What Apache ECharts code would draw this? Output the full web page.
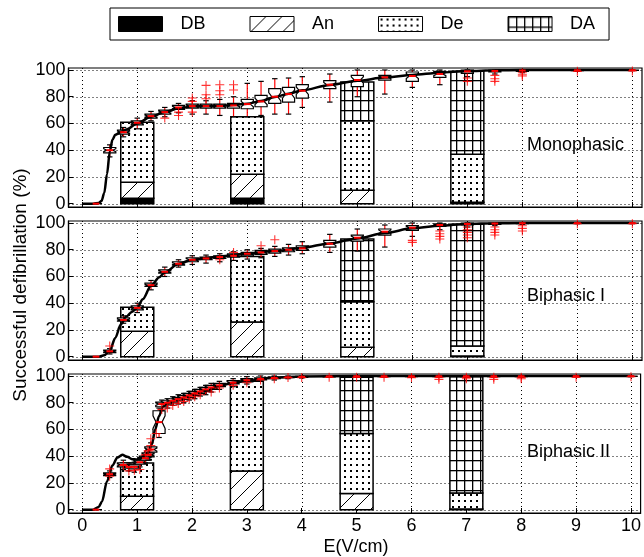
<!DOCTYPE html>
<html><head><meta charset="utf-8">
<script src="https://cdn.jsdelivr.net/npm/echarts@6/dist/echarts.min.js"></script>
<style>html,body{margin:0;padding:0;background:#fff}#c{width:644px;height:557px}</style>
</head><body><div id="c"></div>
<script>
// ---------------- data ----------------
const xTicks = [0,1,2,3,4,5,6,7,8,9,10];
const yTicks = [0,20,40,60,80,100];
const panelNames = ['Monophasic','Biphasic I','Biphasic II'];
const categories = ['DB','An','De','DA'];
const barX = [1,3,5,7];

// stacked bar segments (%), one value per bar position
const monoDB = [4,4,0,0];
const monoAn = [12,18,10,1];
const monoDe = [45,43,52,36];
const monoDA = [0,0,29,62];
const bi1DB = [0,0,0,0];
const bi1An = [19,26,7,0.5];
const bi1De = [18,49,34,7.5];
const bi1DA = [0,0,47,91];
const bi2DB = [0,0,0,0];
const bi2An = [10,29,12,0.5];
const bi2De = [25,67,45,12];
const bi2DA = [0,0,42,87];

// box plots: [E, lower whisker, q1, median, q3, upper whisker]
const monoBoxes = [
 [0.25,0,0,0,0,0],[0.5,35,38,40,42,44],[0.75,50,52,53.5,55,57],[1.0,56,59,60.5,62,64],
 [1.25,62,64,65.5,67,69],[1.5,65,67,68.5,70,72],[1.75,68,70.5,72,73.5,75],[2.0,67,71.5,73,74.5,77],
 [2.25,67,71.5,73,74.5,77],[2.5,66,71.5,73,74.5,78],[2.75,65,71.5,73.5,75,80],[3.0,65,71,74.5,78,90],
 [3.25,66,72.5,76.5,81,91.5],[3.5,67,75,80,86,93.5],[3.75,67,76,82,87,94],[4.0,72,79,84.5,89,95],
 [4.5,76,86,89,92,97],[5.0,80,87.5,92.5,96,100],[5.5,82,92.5,94.5,96,100],[6.0,87,91.5,95.5,98.5,100],
 [6.5,89,94.5,97,99,100],[7.0,95,97.5,99,100,100],[7.5,97,98.5,99.3,100,100],[8.0,98,99,99.6,100,100],
 [9.0,99,99.5,99.8,100,100],[10.0,99.5,99.7,99.9,100,100]
];
const bi1Boxes = [
 [0.25,0,0,0,0,0],[0.5,2,3,4,5,6],[0.75,25,26.5,27.5,29,30.5],[1.0,33,35,36.5,38,40],
 [1.25,50,52.5,53.5,55,57],[1.5,60,62.5,63.5,65,67],[1.75,67,68.5,69.5,71,72.5],[2.0,69,71,72.5,74,75.5],
 [2.25,70,72.5,73.5,74.5,76],[2.5,71,73.5,74.5,75.5,77],[2.75,72,74.5,75.5,77,78.5],[3.0,73,75.5,77,78,80],
 [3.25,74,76.5,78,79.5,81],[3.5,75,77.5,79,80.5,82.5],[3.75,76,78.5,80,81.5,84],[4.0,77,79.5,81,83,86],
 [4.5,78,82,84.5,87,91.5],[5.0,79,86.5,89,91,95.5],[5.5,82,91,93.5,95.5,98.5],[6.0,90,94.5,96.5,98,100],
 [6.5,95,97.5,98.5,99.3,100],[7.0,97,98.5,99.3,100,100],[7.5,98,99,99.6,100,100],[8.0,99,99.5,99.8,100,100],
 [9.0,99.5,99.7,99.9,100,100],[10.0,99.5,99.8,99.9,100,100]
];
const bi2Boxes = [
 [0.25,0,0,0,0,0],[0.5,24,25.5,26.5,27.5,29],[0.75,30,32,33.5,35,37],[0.85,29,31,32,33.5,35],
 [0.95,28,30.5,32,33.5,35.5],[1.05,32,34,35.5,37,39],[1.15,35,37,38.5,40,42],[1.2,37,39.5,41,42.5,45],
 [1.25,40,43,45,47,50],[1.4,54,57,65.5,74,76],[1.45,74,77,79,80.5,82],[1.55,76,78.5,80,81.5,83],
 [1.65,78,80,81.5,83,84.5],[1.75,79,81.5,82.7,84,86],[1.85,80,82.5,84,85.5,87],[1.95,82,84,85.5,87,88.5],
 [2.05,83,85.5,87,88.5,90],[2.15,85,87,88.5,90,91.5],[2.25,86,88.5,90,91.5,93],[2.35,88,90,91.5,93,94.5],
 [2.5,90,92,93,94.5,96],[2.75,92,94,95,96.5,98],[3.0,94,95.5,96.8,98,99.5],[3.25,96,97,97.8,98.7,100],
 [3.5,97,98,98.5,99.2,100],[3.75,98,98.7,99,99.5,100],[4.0,98.5,99,99.4,99.8,100],[4.5,99,99.4,99.7,100,100],
 [5.0,99.3,99.6,99.8,100,100],[5.5,99.3,99.6,99.8,100,100],[6.0,99.3,99.6,99.8,100,100],[6.5,99.3,99.6,99.8,100,100],
 [7.0,99.3,99.6,99.8,100,100],[7.5,99.3,99.6,99.8,100,100],[8.0,99.3,99.6,99.8,100,100],[9.0,99.5,99.7,99.9,100,100],
 [10.0,99.5,99.7,99.9,100,100]
];

// outliers: [E, %]
const monoOut = [[1.5,64],[1.75,68.5],[1.75,66],[2.0,79],[2.0,76.5],[2.0,68.5],[2.25,88.5],[2.25,81.5],[2.25,78.5],
 [2.5,89],[2.5,84.5],[2.5,81.5],[2.75,89],[2.75,85],[7.0,94],[7.0,91.5],[7.5,96],[7.5,93.5],[7.5,91.5],
 [8.0,98],[8.0,96.5],[8.0,95.5],[9.0,99],[10.0,99.2]];
const bi1Out = [[0.5,8],[2.5,72.5],[2.75,78],[3.25,83],[3.5,87.5],[6.0,87],[6.0,85.5],[6.5,94],[6.5,92],[6.5,90],
 [6.5,88],[7.0,97],[7.0,95],[7.0,93],[7.0,91],[7.0,89],[7.5,97],[7.5,95],[7.5,93],[7.5,91],[8.0,98],[8.0,96],
 [8.0,94],[9.0,99.5],[10.0,99.5]];
const bi2Out = [[0.5,30.5],[0.5,25],[0.75,33],[0.85,29],[0.95,29.5],[1.05,30],[1.15,41],[1.2,44],[1.25,48],[1.25,53],
 [1.35,57],[1.45,75],[1.55,76],[1.65,78],[1.75,79.5],[1.85,81],[1.95,83],[2.05,84.5],[2.15,86],[2.35,88],[2.5,91],
 [2.75,93],[3.0,95],[3.25,97],[3.5,98],[3.75,98.8],[4.0,98.8],[4.5,99],[5.0,99],[5.5,99],[6.0,98.8],[6.5,99],
 [6.5,97.5],[7.0,99],[7.0,98],[7.5,99],[7.5,97.5],[8.0,99],[8.0,98],[9.0,99],[10.0,99.5]];

// fitted curves
const monoCurveX = [0,0.2,0.3,0.35,0.4,0.45,0.5,0.55,0.6,0.7,0.8,1.0,1.25,1.5,1.75,2.0,2.5,2.75,3.0,3.25,3.5,3.75,4.0,4.5,5.0,5.5,6.0,6.5,7.0,7.5,8,9,10];
const monoCurveY = [0,0,0.5,2,8,22,39,48,51.5,53.5,55.5,60,65,68.5,71.3,72.8,73.2,73.8,74.8,76.8,79.8,82.3,84.8,88.8,92,94.3,96.3,98,99.2,99.8,100,100,100];
const bi1CurveX = [0,0.3,0.4,0.5,0.6,0.7,0.8,0.9,1.0,1.1,1.25,1.4,1.5,1.75,2.0,2.5,3.0,3.5,4.0,4.5,5.0,5.5,6.0,6.5,7.0,7.5,8,9,10];
const bi1CurveY = [0,0,1,4.5,14,24,30,33.5,36.5,43,53,59.5,63,69.5,72.5,75,77,79,81.5,84.7,88.5,92.5,96,98,99.3,99.8,100,100,100];
const bi2CurveX = [0,0.2,0.3,0.36,0.45,0.55,0.64,0.73,0.82,0.91,1.0,1.1,1.2,1.27,1.33,1.4,1.47,1.55,1.75,2.0,2.25,2.5,2.75,3.0,3.5,4.0,5,10];
const bi2CurveY = [0,0,2,6,21,33,39,41,39.5,37.8,37.5,39,42.5,49,60,70,77,79.5,82.5,86,89,92.5,95,96.5,98.8,99.7,100,100];

// ---------------- layout / style ----------------
const FONT = '"Liberation Sans", Arial, sans-serif';
const X_MIN = -0.25, X_MAX = 10.175, Y_MIN = -2.5, Y_MAX = 101.5;
const GRID_TOPS = [68, 221, 374], GRID_H = 139, GRID_LEFT = 68.5, GRID_W = 573.5;
const BAR_HALF = 0.3, BOX_HALF = 0.11, NOTCH = 0.28;

function makePattern(w, h, draw) {
  const cv = document.createElement('canvas'); cv.width = w; cv.height = h;
  const g = cv.getContext('2d'); g.fillStyle = '#fff'; g.fillRect(0, 0, w, h);
  g.fillStyle = '#000'; g.strokeStyle = '#000'; draw(g);
  return { image: cv, repeat: 'repeat' };
}
const fillDB = '#000';
const fillAn = makePattern(16, 16, g => { g.lineWidth = 1; g.beginPath(); g.moveTo(-2, 18); g.lineTo(18, -2); g.stroke(); });
const fillDe = makePattern(6, 6, g => { g.fillRect(2, 2, 2, 2); });
const fillDA = makePattern(8, 10, g => { g.fillRect(0, 0, 1.3, 10); g.fillRect(0, 0, 8, 1.3); });
const fills = [fillDB, fillAn, fillDe, fillDA];

const panels = [
  { bars: [monoDB, monoAn, monoDe, monoDA], boxes: monoBoxes, out: monoOut, cx: monoCurveX, cy: monoCurveY },
  { bars: [bi1DB, bi1An, bi1De, bi1DA], boxes: bi1Boxes, out: bi1Out, cx: bi1CurveX, cy: bi1CurveY },
  { bars: [bi2DB, bi2An, bi2De, bi2DA], boxes: bi2Boxes, out: bi2Out, cx: bi2CurveX, cy: bi2CurveY }
];

function gridRender(params, api) {
  const cs = params.coordSys;
  const v = api.value(0), dir = api.value(1);
  const st = { stroke: '#000', lineWidth: 1, lineDash: [1, 3] };
  if (dir === 0) {
    const p = api.coord([v, 0]);
    return { type: 'line', shape: { x1: Math.round(p[0]) + 0.5, y1: cs.y, x2: Math.round(p[0]) + 0.5, y2: cs.y + cs.height }, style: st };
  }
  const p = api.coord([0, v]);
  return { type: 'line', shape: { x1: cs.x, y1: Math.round(p[1]) + 0.5, x2: cs.x + cs.width, y2: Math.round(p[1]) + 0.5 }, style: st };
}
function barRender(fill) {
  return function (params, api) {
    const x = api.value(0), b = api.value(1), t = api.value(2);
    const p1 = api.coord([x - BAR_HALF, t]), p2 = api.coord([x + BAR_HALF, b]);
    return { type: 'rect', shape: { x: p1[0], y: p1[1], width: p2[0] - p1[0], height: p2[1] - p1[1] },
      style: { fill: fill, stroke: '#000', lineWidth: 1.5 } };
  };
}
function boxRender(params, api) {
  const x = api.value(0), lo = api.value(1), q1 = api.value(2), md = api.value(3), q3 = api.value(4), hi = api.value(5);
  const w = BOX_HALF, n = (q3 - q1) * NOTCH;
  const c = (a, b) => api.coord([a, b]);
  const poly = [[x - w, q1], [x - w, md - n], [x - w * 0.5, md], [x - w, md + n], [x - w, q3], [x + w, q3],
    [x + w, md + n], [x + w * 0.5, md], [x + w, md - n], [x + w, q1]].map(p => c(p[0], p[1]));
  const pLo = c(x, lo), pQ1 = c(x, q1), pQ3 = c(x, q3), pHi = c(x, hi);
  const cw = (c(x + w, 0)[0] - c(x, 0)[0]) * 0.45;
  const red = { stroke: '#f00', lineWidth: 1.2 }, blk = { stroke: '#000', lineWidth: 1.2 };
  return { type: 'group', children: [
    { type: 'line', shape: { x1: pQ3[0], y1: pQ3[1], x2: pHi[0], y2: pHi[1] }, style: red },
    { type: 'line', shape: { x1: pQ1[0], y1: pQ1[1], x2: pLo[0], y2: pLo[1] }, style: red },
    { type: 'line', shape: { x1: pHi[0] - cw, y1: pHi[1], x2: pHi[0] + cw, y2: pHi[1] }, style: blk },
    { type: 'line', shape: { x1: pLo[0] - cw, y1: pLo[1], x2: pLo[0] + cw, y2: pLo[1] }, style: blk },
    { type: 'polygon', shape: { points: poly }, style: { fill: '#fff', stroke: '#000', lineWidth: 1.2 } }
  ] };
}
function medRender(params, api) {
  const x = api.value(0), md = api.value(3);
  const a = api.coord([x - BOX_HALF * 0.55, md]), b = api.coord([x + BOX_HALF * 0.55, md]);
  return { type: 'line', shape: { x1: a[0], y1: a[1], x2: b[0], y2: b[1] }, style: { stroke: '#f00', lineWidth: 2 } };
}

const grid = [], xAxis = [], yAxis = [], series = [];
panels.forEach((P, i) => {
  grid.push({ left: GRID_LEFT, width: GRID_W, top: GRID_TOPS[i], height: GRID_H, show: true, borderColor: '#000', borderWidth: 1.2 });
  xAxis.push({ type: 'value', gridIndex: i, min: X_MIN, max: X_MAX, splitLine: { show: false },
    axisLine: { show: true, onZero: false, lineStyle: { color: '#000', width: 1.2 } },
    axisTick: { show: true, inside: true, length: 5, customValues: xTicks, lineStyle: { color: '#000' } },
    axisLabel: { show: i === 2, customValues: xTicks, fontSize: 18, color: '#000', fontFamily: FONT, margin: 4 } });
  yAxis.push({ type: 'value', gridIndex: i, min: Y_MIN, max: Y_MAX, splitLine: { show: false },
    axisLine: { show: true, onZero: false, lineStyle: { color: '#000', width: 1.2 } },
    axisTick: { show: true, inside: true, length: 5, customValues: yTicks, lineStyle: { color: '#000' } },
    axisLabel: { customValues: yTicks, fontSize: 18, color: '#000', fontFamily: FONT, margin: 3 } });
  const gl = xTicks.map(v => [v, 0]).concat(yTicks.map(v => [v, 1]));
  series.push({ type: 'custom', name: 'grid' + i, xAxisIndex: i, yAxisIndex: i, z: 0, silent: true, renderItem: gridRender, data: gl });
  const base = [0, 0, 0, 0];
  P.bars.forEach((arr, k) => {
    const data = [];
    arr.forEach((v, j) => { if (v > 0) data.push([barX[j], base[j], base[j] + v]); base[j] += v; });
    series.push({ type: 'custom', name: categories[k], xAxisIndex: i, yAxisIndex: i, z: 1, silent: true,
      itemStyle: { color: fills[k], borderColor: '#000' }, renderItem: barRender(fills[k]), data: data });
  });
  series.push({ type: 'custom', name: 'box' + i, xAxisIndex: i, yAxisIndex: i, z: 2, silent: true, clip: true, renderItem: boxRender, data: P.boxes });
  series.push({ type: 'line', name: 'fit' + i, xAxisIndex: i, yAxisIndex: i, z: 3, silent: true, showSymbol: false,
    smooth: 0.3, smoothMonotone: 'x', lineStyle: { color: '#000', width: 2.5 }, data: P.cx.map((x, j) => [x, P.cy[j]]) });
  series.push({ type: 'custom', name: 'med' + i, xAxisIndex: i, yAxisIndex: i, z: 4, silent: true, renderItem: medRender, data: P.boxes });
  series.push({ type: 'scatter', name: 'out' + i, xAxisIndex: i, yAxisIndex: i, z: 5, silent: true,
    symbol: 'path://M4.4,0h1.2v10h-1.2z M0,4.4h10v1.2h-10z', symbolSize: 9, itemStyle: { color: '#f00' }, data: P.out });
});

const graphic = [
  { type: 'text', x: 21, y: 285, rotation: Math.PI / 2, style: { text: 'Successful defibrillation (%)', font: '19px ' + FONT, fill: '#000', textAlign: 'center', textVerticalAlign: 'middle' } },
  { type: 'text', x: 356, y: 547, style: { text: 'E(V/cm)', font: '18px ' + FONT, fill: '#000', textAlign: 'center', textVerticalAlign: 'middle' } }
];
const labelY = [145, 296, 452];
panelNames.forEach((t, i) => graphic.push({ type: 'text', x: 527, y: labelY[i], z: 10,
  style: { text: t, font: '18px ' + FONT, fill: '#000', textAlign: 'left', textVerticalAlign: 'middle' } }));

const chart = echarts.init(document.getElementById('c'), null, { renderer: 'canvas' });
chart.setOption({
  animation: false,
  backgroundColor: '#fff',
  legend: { left: 110, top: 8, padding: [7, 14, 7, 8], itemGap: 44, itemWidth: 44, itemHeight: 15, icon: 'rect',
    borderColor: '#000', borderWidth: 1, selectedMode: false,
    textStyle: { fontSize: 18, color: '#000', fontFamily: FONT, padding: [0, 0, 0, 13] },
    data: categories.map((c, k) => ({ name: c, itemStyle: { color: fills[k], borderColor: '#000', borderWidth: 1 } })) },
  grid, xAxis, yAxis, series, graphic
});
</script></body></html>
